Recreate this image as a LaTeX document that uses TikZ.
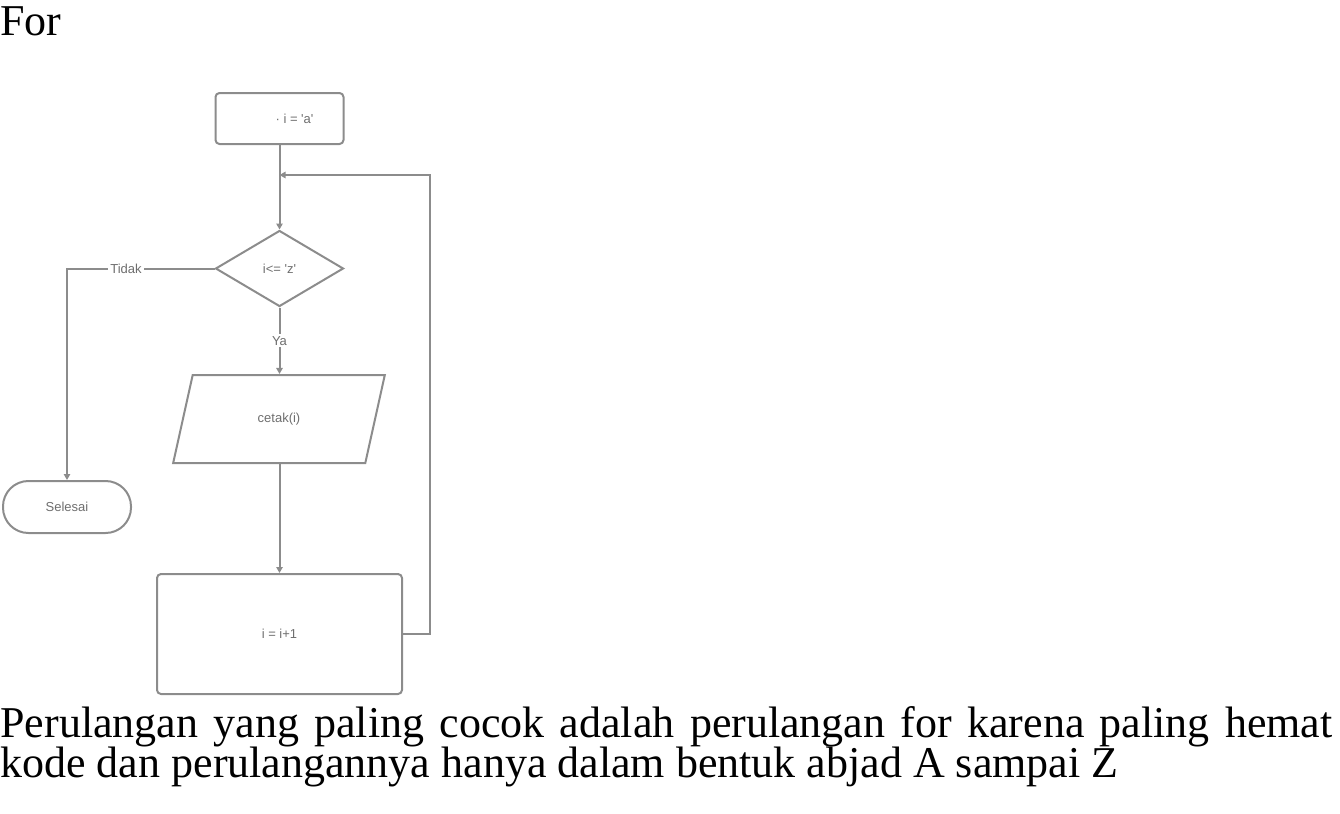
\documentclass[tikz,border=0pt]{standalone}
\usepackage{fontspec}
\setmainfont{Liberation Serif}
\newfontfamily\flowfont{Liberation Sans}
\usetikzlibrary{shapes.geometric,arrows.meta}
\definecolor{linegray}{HTML}{8C8C8C}
\definecolor{textgray}{HTML}{6E6E6E}
\begin{document}
\begin{tikzpicture}[x=0.5pt,y=-0.5pt,
    flow/.style ={draw=linegray, line width=1pt, inner sep=0pt, text=textgray,
                  font=\flowfont\fontsize{6.5}{8}\selectfont},
    process/.style ={flow, rectangle, rounded corners=2pt},
    decision/.style ={flow, diamond, minimum width=64pt, minimum height=38pt},
    io/.style ={flow, trapezium, trapezium stretches=true,
                trapezium left angle=68.3, trapezium right angle=111.7,
                minimum width=106pt, minimum height=44pt},
    terminal/.style ={flow, rectangle, rounded corners=12.7pt,
                      minimum width=64pt, minimum height=26pt},
    flowline/.style ={draw=linegray, line width=1pt},
    flowarrow/.style ={flowline, -{Triangle[length=3pt,width=3.2pt]}},
    flowlabel/.style ={fill=white, inner sep=1pt, text=textgray,
                       font=\flowfont\fontsize{6.5}{8}\selectfont},
    bodytext/.style ={inner sep=0pt, anchor=base west, font=\fontsize{22}{26}\selectfont}]
   \useasboundingbox (0,0) rectangle (1340,814);
   \node[bodytext] (title) at (0,35) {For};
   \node[process, minimum width=64pt, minimum height=25.5pt] (init) at (279.5,118.5)
        {\hspace*{15pt}\textperiodcentered\ i = \textquotesingle a\textquotesingle};
   \coordinate (join) at (279.5,175);
   \node[decision] (cond) at (279.5,268.5) {i<= \textquotesingle z\textquotesingle};
   \node[io] (print) at (279,419) {cetak(i)};
   \node[terminal] (stop) at (67,507) {Selesai};
   \node[process, minimum width=122.5pt, minimum height=60pt] (incr) at (279.5,634) {i = i+1};
   \draw[flowarrow] (init) -- (cond);
   \draw[flowarrow] (cond) -- node[flowlabel] {Ya} (cond.south |- print.north);
   \draw[flowarrow] (cond.west) -| node[flowlabel, pos=0.3] {Tidak} (stop.north);
   \draw[flowarrow] (cond.south |- print.south) -- (incr);
   \draw[flowarrow] (incr.east) -- ++(27,0) |- (join);
   \node[bodytext] (line1) at (0,737)
        {\makebox[666pt][s]{Perulangan yang paling cocok adalah perulangan for karena paling hemat}};
   \node[bodytext] (line2) at (0,777)
        {kode dan perulangannya hanya dalam bentuk abjad A sampai Z};
 \end{tikzpicture}
\end{document}
